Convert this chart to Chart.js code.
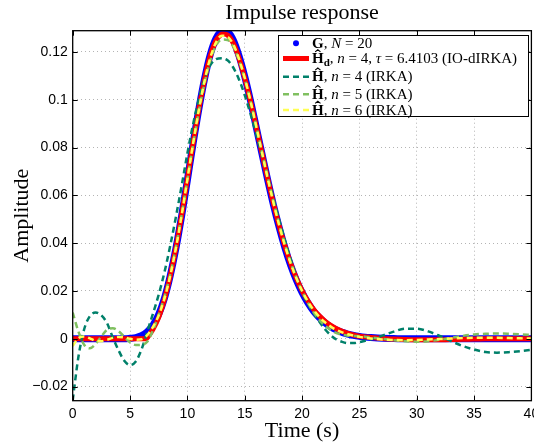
<!DOCTYPE html>
<html>
<head>
<meta charset="utf-8">
<script src="https://cdn.jsdelivr.net/npm/chart.js@4.4.1/dist/chart.umd.min.js"></script>
<style>
  html, body { margin: 0; padding: 0; background: #fff; }
</style>
</head>
<body>
<canvas id="impulseChart" width="534" height="443"></canvas>
<script>
// ---------- data

// shared time grid (s) for G and the IRKA models
const time = [0, 0.5, 1, 1.5, 2, 2.5, 3, 3.5, 4, 4.5, 5, 5.5, 6, 6.5, 7, 7.5, 8, 8.5, 9, 9.5,
  10, 10.5, 11, 11.5, 12, 12.5, 13, 13.5, 14, 14.5, 15, 15.5, 16, 16.5, 17, 17.5, 18, 18.5, 19, 19.5,
  20, 20.5, 21, 21.5, 22, 22.5, 23, 23.5, 24, 24.5, 25, 25.5, 26,
  27, 28, 29, 30, 31, 32, 33, 34, 35, 36, 37, 38, 39, 40];

// G, N = 20
const gValues = [0, 0, 0, 0, 0, 0, 0, 0, 0, 0, 0.0002, 0.0005, 0.0013, 0.0029, 0.0057, 0.0102, 0.0170, 0.0263, 0.0378, 0.0514,
  0.0664, 0.0817, 0.0961, 0.1088, 0.1190, 0.1257, 0.1286, 0.1284, 0.1250, 0.1184, 0.1098, 0.0997, 0.0886, 0.0775, 0.0665, 0.0561, 0.0467, 0.0382, 0.0308, 0.0246,
  0.0194, 0.0151, 0.0116, 0.0089, 0.0067, 0.0050, 0.0037, 0.0027, 0.0020, 0.0014, 0.0010, 0.0007, 0.0005,
  0.0002, 0.0001, 0, 0, 0, 0, 0, 0, 0, 0, 0, 0, 0, 0];

// H_d, n = 4, tau = 6.4103 (own time grid because of the delay kink)
const hdTime = [0, 6.41, 6.5, 7, 7.5, 8, 8.5, 9, 9.5,
  10, 10.5, 11, 11.5, 12, 12.5, 13, 13.5, 14, 14.5, 15, 15.5, 16, 16.5, 17, 17.5, 18, 18.5, 19, 19.5,
  20, 20.5, 21, 21.5, 22, 22.5, 23, 23.5, 24, 24.5, 25, 25.5, 26,
  27, 28, 29, 30, 31, 32, 33, 34, 35, 36, 37, 38, 39, 40];
const hdValues = [0, 0, 0.0004, 0.0040, 0.0090, 0.0165, 0.0262, 0.0380, 0.0518,
  0.0668, 0.0820, 0.0962, 0.1085, 0.1183, 0.1248, 0.1275, 0.1271, 0.1237, 0.1175, 0.1092, 0.0995, 0.0888, 0.0778, 0.0670, 0.0567, 0.0473, 0.0389, 0.0316, 0.0254,
  0.0202, 0.0159, 0.0124, 0.0096, 0.0074, 0.0056, 0.0042, 0.0031, 0.0023, 0.0016, 0.0011, 0.0008, 0.0005,
  0.0001, -0.0001, -0.0003, -0.0004, -0.0004, -0.0004, -0.0003, -0.0002, -0.0001, 0, 0, 0, 0, 0];

// H, n = 4 (IRKA)
const irka4Values = [-0.0257, -0.0075, 0.0040, 0.0095, 0.0110, 0.0098, 0.0065, 0.0005, -0.0048, -0.0092, -0.0110, -0.0095, -0.0045, 0.0030, 0.0105, 0.0185, 0.0278, 0.0388, 0.0510, 0.0640,
  0.0775, 0.0898, 0.1003, 0.1088, 0.1145, 0.1170, 0.1174, 0.1165, 0.1135, 0.1085, 0.1020, 0.0942, 0.0857, 0.0768, 0.0677, 0.0587, 0.0498, 0.0413, 0.0333, 0.0260,
  0.0196, 0.0148, 0.0108, 0.0072, 0.0040, 0.0015, -0.0003, -0.0013, -0.0018, -0.0018, -0.0014, -0.0008, -0.0002,
  0.0013, 0.0030, 0.0042, 0.0042, 0.0031, 0.0012, -0.0010, -0.0030, -0.0045, -0.0055, -0.0058, -0.0056, -0.0052, -0.0046];

// H, n = 5 (IRKA)
const irka5Values = [0.0110, 0.0030, -0.0025, -0.0040, -0.0022, 0.0010, 0.0038, 0.0044, 0.0032, 0.0008, -0.0015, -0.0026, -0.0025, -0.0012, 0.0035, 0.0100, 0.0175, 0.0268, 0.0383, 0.0518,
  0.0665, 0.0812, 0.0950, 0.1070, 0.1165, 0.1227, 0.1252, 0.1250, 0.1222, 0.1165, 0.1088, 0.0995, 0.0892, 0.0785, 0.0678, 0.0575, 0.0480, 0.0395, 0.0320, 0.0255,
  0.0200, 0.0152, 0.0112, 0.0080, 0.0055, 0.0037, 0.0024, 0.0017, 0.0013, 0.0012, 0.0011, 0.0009, 0.0006,
  0.0000, -0.0006, -0.0010, -0.0012, -0.0010, -0.0004, 0.0004, 0.0012, 0.0018, 0.0021, 0.0022, 0.0021, 0.0019, 0.0016];

// H, n = 6 (IRKA)
const irka6Values = [-0.0030, 0.0003, 0.0010, 0.0002, -0.0008, -0.0010, -0.0004, 0.0004, 0.0008, 0.0006, 0.0000, -0.0004, -0.0002, 0.0015, 0.0050, 0.0098, 0.0168, 0.0262, 0.0379, 0.0517,
  0.0667, 0.0818, 0.0958, 0.1080, 0.1176, 0.1240, 0.1268, 0.1264, 0.1232, 0.1172, 0.1092, 0.0996, 0.0889, 0.0780, 0.0672, 0.0570, 0.0476, 0.0391, 0.0317, 0.0254,
  0.0201, 0.0157, 0.0121, 0.0092, 0.0069, 0.0051, 0.0037, 0.0027, 0.0019, 0.0013, 0.0008, 0.0004, 0.0001,
  -0.0003, -0.0005, -0.0006, -0.0005, -0.0003, -0.0001, 0.0001, 0.0003, 0.0004, 0.0004, 0.0004, 0.0003, 0.0002, 0.0001];

// tick labels
const xTicks = [0, 5, 10, 15, 20, 25, 30, 35, 40];
const yTicks = [-0.02, 0, 0.02, 0.04, 0.06, 0.08, 0.1, 0.12];

const seriesColors = ["#0000ff", "#ff0000", "#00806a", "#80c060", "#ffff55"];

// ---------- helpers

const pairs = (xs, ys) => xs.map((x, i) => ({ x: x, y: ys[i] }));

const SERIF = '"Liberation Serif", "Times New Roman", serif';
const LF = 15; // legend font size

function drawRich(ctx, x, y, parts) {
  for (const p of parts) {
    if (p.hat) {
      ctx.font = "bold " + LF + "px " + SERIF;
      const w = ctx.measureText("H").width;
      ctx.fillText("H", x, y);
      ctx.beginPath();
      ctx.moveTo(x + w * 0.27, y - LF * 0.74);
      ctx.lineTo(x + w * 0.5, y - LF * 0.88);
      ctx.lineTo(x + w * 0.73, y - LF * 0.74);
      ctx.lineWidth = 1.1;
      ctx.strokeStyle = "#000";
      ctx.stroke();
      x += w;
      continue;
    }
    let font = LF + "px " + SERIF, dy = 0;
    if (p.s === "b") font = "bold " + LF + "px " + SERIF;
    if (p.s === "i") font = "italic " + LF + "px " + SERIF;
    if (p.s === "sub") { font = "bold " + Math.round(LF * 0.72) + "px " + SERIF; dy = 3; }
    ctx.font = font;
    ctx.fillText(p.t, x, y + dy);
    x += ctx.measureText(p.t).width;
  }
}

const legendRows = [
  { kind: "dot", color: seriesColors[0], parts: [{ t: "G", s: "b" }, { t: ", " }, { t: "N", s: "i" }, { t: " = 20" }] },
  { kind: "solid", color: seriesColors[1], parts: [{ hat: true }, { t: "d", s: "sub" }, { t: ", " }, { t: "n", s: "i" }, { t: " = 4, " }, { t: "\u03c4", s: "i" }, { t: " = 6.4103 (IO-dIRKA)" }] },
  { kind: "dash", color: seriesColors[2], parts: [{ hat: true }, { t: ", " }, { t: "n", s: "i" }, { t: " = 4 (IRKA)" }] },
  { kind: "dash", color: seriesColors[3], parts: [{ hat: true }, { t: ", " }, { t: "n", s: "i" }, { t: " = 5 (IRKA)" }] },
  { kind: "dash", color: seriesColors[4], parts: [{ hat: true }, { t: ", " }, { t: "n", s: "i" }, { t: " = 6 (IRKA)" }] }
];

// box, inward ticks, titles and legend in MATLAB style
const matlabFrame = {
  id: "matlabFrame",
  afterDatasetsDraw(chart) {
    const ctx = chart.ctx, a = chart.chartArea;
    const xs = chart.scales.x, ys = chart.scales.y;
    ctx.save();
    ctx.strokeStyle = "#000";
    ctx.lineWidth = 1;
    ctx.beginPath();
    xTicks.forEach(v => {
      const px = Math.round(xs.getPixelForValue(v)) + 0.5;
      ctx.moveTo(px, a.bottom); ctx.lineTo(px, a.bottom - 5);
      ctx.moveTo(px, a.top); ctx.lineTo(px, a.top + 5);
    });
    yTicks.forEach(v => {
      const py = Math.round(ys.getPixelForValue(v)) + 0.5;
      ctx.moveTo(a.left, py); ctx.lineTo(a.left + 5, py);
      ctx.moveTo(a.right, py); ctx.lineTo(a.right - 5, py);
    });
    ctx.stroke();
    ctx.lineWidth = 1.3;
    ctx.strokeRect(a.left, a.top, a.right - a.left, a.bottom - a.top);
    ctx.restore();
  },
  afterDraw(chart) {
    const ctx = chart.ctx, a = chart.chartArea;
    const cx = (a.left + a.right) / 2;
    ctx.save();
    ctx.fillStyle = "#000";
    ctx.font = "22px " + SERIF;
    ctx.textAlign = "center";
    ctx.textBaseline = "alphabetic";
    ctx.fillText("Impulse response", cx, 19);
    ctx.fillText("Time (s)", cx, 437);
    ctx.save();
    ctx.translate(28, (a.top + a.bottom) / 2);
    ctx.rotate(-Math.PI / 2);
    ctx.fillText("Amplitude", 0, 0);
    ctx.restore();

    // legend
    const bx = 278.5, by = 35.5, bw = 250, bh = 81;
    ctx.fillStyle = "#fff";
    ctx.fillRect(bx, by, bw, bh);
    ctx.strokeStyle = "#000";
    ctx.lineWidth = 1;
    ctx.strokeRect(bx, by, bw, bh);
    const rowY = [43.3, 58.5, 76.7, 94.2, 110];
    ctx.textAlign = "left";
    legendRows.forEach((row, i) => {
      const y = rowY[i];
      ctx.save();
      if (row.kind === "dot") {
        ctx.fillStyle = row.color;
        ctx.beginPath();
        ctx.arc(296, y, 3, 0, Math.PI * 2);
        ctx.fill();
      } else {
        ctx.strokeStyle = row.color;
        ctx.lineWidth = row.kind === "solid" ? 5 : 2.5;
        ctx.setLineDash(row.kind === "solid" ? [] : [6, 4]);
        ctx.beginPath();
        ctx.moveTo(283, y);
        ctx.lineTo(309, y);
        ctx.stroke();
      }
      ctx.restore();
      ctx.fillStyle = "#000";
      drawRich(ctx, 312, y + 4.5, row.parts);
    });
    ctx.restore();
  }
};

// ---------- chart

const lineBase = { fill: false, pointRadius: 0, pointHoverRadius: 0, cubicInterpolationMode: "monotone" };

const impulseChart = new Chart(document.getElementById("impulseChart"), {
  type: "line",
  data: {
    datasets: [
      Object.assign({}, lineBase, { label: "G, N = 20", data: pairs(time, gValues), borderColor: seriesColors[0], borderWidth: 7, order: 5 }),
      Object.assign({}, lineBase, { label: "Hd, n = 4", data: pairs(hdTime, hdValues), borderColor: seriesColors[1], borderWidth: 5, order: 4, cubicInterpolationMode: "default", tension: 0.2 }),
      Object.assign({}, lineBase, { label: "H, n = 4 (IRKA)", data: pairs(time, irka4Values), borderColor: seriesColors[2], borderWidth: 2.5, borderDash: [6, 4], order: 3 }),
      Object.assign({}, lineBase, { label: "H, n = 5 (IRKA)", data: pairs(time, irka5Values), borderColor: seriesColors[3], borderWidth: 2.5, borderDash: [6, 4], order: 2 }),
      Object.assign({}, lineBase, { label: "H, n = 6 (IRKA)", data: pairs(time, irka6Values), borderColor: seriesColors[4], borderWidth: 2.5, borderDash: [6, 4], order: 1 })
    ]
  },
  options: {
    responsive: false,
    animation: false,
    layout: { padding: { left: 0, top: 30.7, right: 2.6, bottom: 0 } },
    plugins: { legend: { display: false }, tooltip: { enabled: false } },
    scales: {
      x: {
        type: "linear",
        min: 0,
        max: 40,
        afterBuildTicks: s => { s.ticks = xTicks.map(v => ({ value: v })); },
        afterFit: s => { s.height = 42.3; s.paddingLeft = 0; s.paddingRight = 0; },
        grid: { color: "#b4b4b4", lineWidth: 1, drawTicks: false },
        border: { display: false, dash: [1, 3] },
        ticks: { padding: 5, color: "#000", maxRotation: 0, autoSkip: false, font: { family: "Liberation Sans", size: 14 } }
      },
      y: {
        type: "linear",
        min: -0.0259,
        max: 0.1289,
        afterBuildTicks: s => { s.ticks = yTicks.map(v => ({ value: v })); },
        afterFit: s => { s.width = 72.7; s.paddingTop = 0; s.paddingBottom = 0; },
        grid: { color: "#b4b4b4", lineWidth: 1, drawTicks: false },
        border: { display: false, dash: [1, 3] },
        ticks: {
          padding: 5, color: "#000", autoSkip: false, font: { family: "Liberation Sans", size: 14 },
          callback: v => (v < 0 ? "\u2212" : "") + String(Math.round(Math.abs(v) * 100) / 100)
        }
      }
    }
  },
  plugins: [matlabFrame]
});
</script>
</body>
</html>
